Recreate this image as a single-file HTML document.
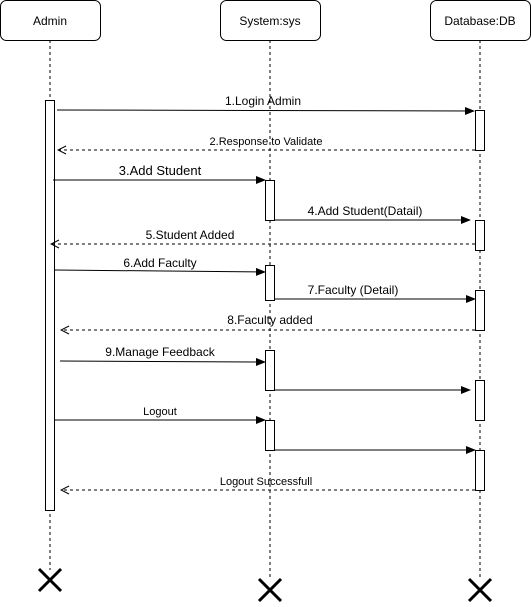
<!DOCTYPE html>
<html><head><style>body{margin:0;background:#fff}</style></head><body>
<svg width="531" height="602" xmlns="http://www.w3.org/2000/svg" font-family="Liberation Sans, sans-serif">
<defs>
<marker id="a" markerWidth="10" markerHeight="8" refX="9" refY="4" orient="auto" markerUnits="userSpaceOnUse"><path d="M0,0 L10,4 L0,8 Z" fill="#000"/></marker>
<marker id="o" markerWidth="10" markerHeight="10" refX="9" refY="5" orient="auto" markerUnits="userSpaceOnUse"><path d="M1,1 L9,5 L1,9" fill="none" stroke="#000"/></marker>
</defs>
<g stroke="#000" stroke-dasharray="3,3" fill="none">
<line x1="50" y1="40" x2="50" y2="570"/>
<line x1="270" y1="40" x2="270" y2="580"/>
<line x1="480" y1="40" x2="480" y2="580"/>
</g>
<g fill="#fff" stroke="#000">
<rect x="0.5" y="0.5" width="100" height="40" rx="6"/>
<rect x="220.5" y="0.5" width="100" height="40" rx="6"/>
<rect x="430.5" y="0.5" width="100" height="40" rx="6"/>
<rect x="45.5" y="100.5" width="9" height="410"/>
<rect x="475.5" y="110.5" width="9" height="40"/>
<rect x="475.5" y="220.5" width="9" height="30"/>
<rect x="475.5" y="290.5" width="9" height="40"/>
<rect x="475.5" y="380.5" width="9" height="40"/>
<rect x="475.5" y="450.5" width="9" height="40"/>
<rect x="265.5" y="180.5" width="9" height="40"/>
<rect x="265.5" y="265.5" width="9" height="35"/>
<rect x="265.5" y="350.5" width="9" height="40"/>
<rect x="265.5" y="420.5" width="9" height="30"/>
</g>
<g font-size="12" text-anchor="middle">
<text x="50" y="25">Admin</text>
<text x="270" y="25">System:sys</text>
<text x="480" y="25">Database:DB</text>
</g>
<g stroke="#000" fill="none">
<line x1="57" y1="110" x2="474" y2="111" marker-end="url(#a)"/>
<line x1="475" y1="150" x2="58" y2="150" stroke-dasharray="3,3" marker-end="url(#o)" />
<line x1="53" y1="180" x2="265" y2="180" marker-end="url(#a)"/>
<line x1="275" y1="220" x2="470" y2="220" marker-end="url(#a)"/>
<line x1="475" y1="244" x2="51" y2="244" stroke-dasharray="3,3" marker-end="url(#o)"/>
<line x1="55" y1="270" x2="265" y2="272" marker-end="url(#a)"/>
<line x1="275" y1="299" x2="475" y2="299" marker-end="url(#a)"/>
<line x1="475" y1="330" x2="61" y2="330" stroke-dasharray="3,3" marker-end="url(#o)"/>
<line x1="60" y1="361" x2="265" y2="362" marker-end="url(#a)"/>
<line x1="275" y1="390" x2="470" y2="390" marker-end="url(#a)"/>
<line x1="55" y1="420" x2="265" y2="420" marker-end="url(#a)"/>
<line x1="275" y1="450" x2="475" y2="450" marker-end="url(#a)"/>
<line x1="475" y1="490" x2="61" y2="490" stroke-dasharray="3,3" marker-end="url(#o)"/>
</g>
<g font-size="12" text-anchor="middle">
<text x="263" y="105">1.Login Admin</text>
<text x="266" y="145" font-size="11">2.Response to Validate</text>
<text x="160" y="175" font-size="13">3.Add Student</text>
<text x="365" y="215">4.Add Student(Datail)</text>
<text x="190" y="239">5.Student Added</text>
<text x="160" y="267">6.Add Faculty</text>
<text x="353" y="294">7.Faculty (Detail)</text>
<text x="270" y="324">8.Faculty added</text>
<text x="160" y="356">9.Manage Feedback</text>
<text x="160" y="415" font-size="11">Logout</text>
<text x="266" y="485" font-size="11">Logout Successfull</text>
</g>
<g stroke="#000" stroke-width="3">
<path d="M39,569 L61,591 M61,569 L39,591"/>
<path d="M259,579 L281,601 M281,579 L259,601"/>
<path d="M469,579 L491,601 M491,579 L469,601"/>
</g>
</svg>
</body></html>
